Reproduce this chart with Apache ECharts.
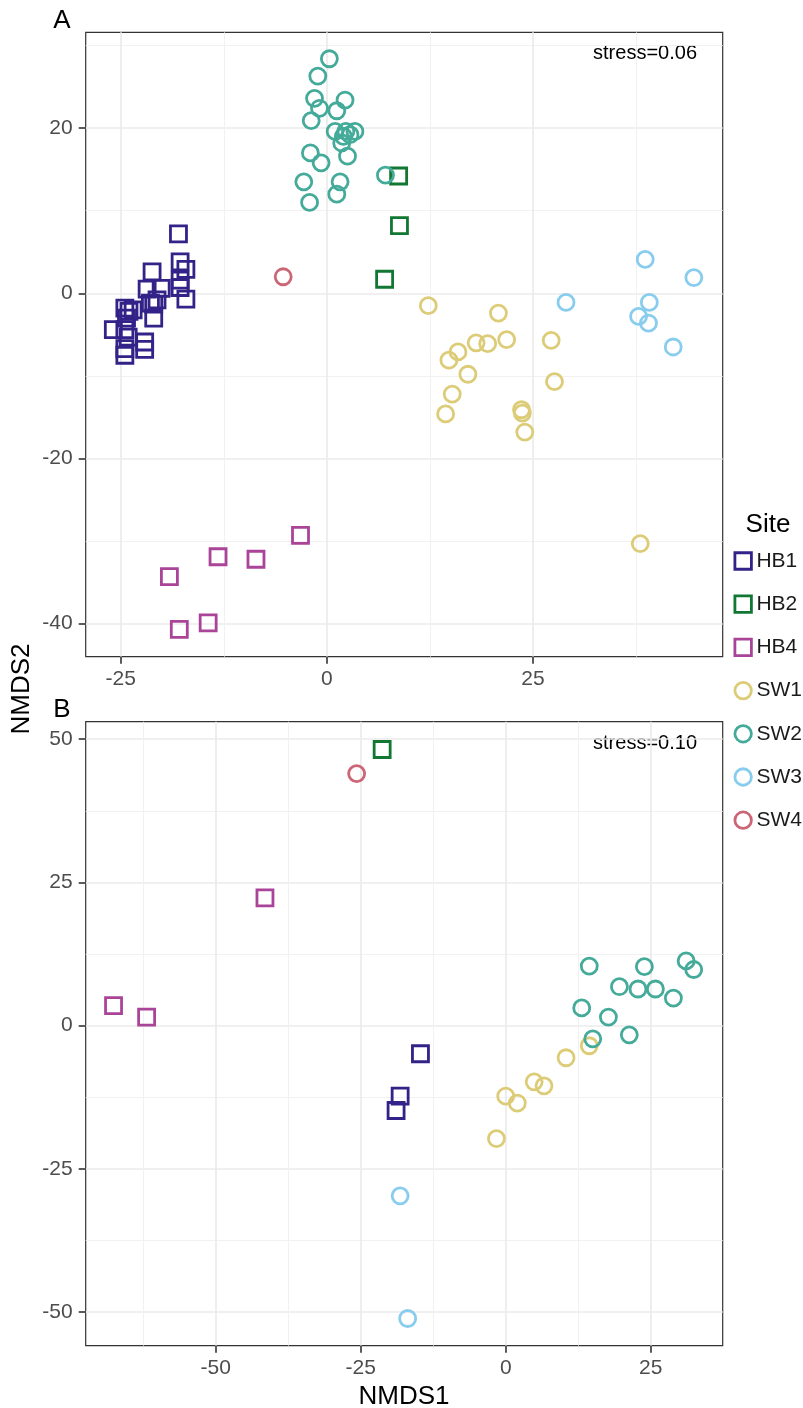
<!DOCTYPE html>
<html>
<head>
<meta charset="utf-8">
<script src="https://cdn.jsdelivr.net/npm/echarts@6/dist/echarts.min.js"></script>
<style>
html,body{margin:0;padding:0;background:#fff;}
#chart{width:803px;height:1408px;}
</style>
</head>
<body>
<div id="chart"></div>
<script>
// ---------- data ----------
const SITES = ['HB1','HB2','HB4','SW1','SW2','SW3','SW4'];

// Panel A (NMDS1, NMDS2)
const A_HB1 = [[-18.0,7.2],[-17.8,3.8],[-17.1,2.9],[-21.2,2.6],[-17.8,1.6],[-17.1,-0.7],[-17.8,0.7],[-20.1,0.6],[-21.8,0.5],[-20.6,-0.8],[-21.0,-1.3],[-21.0,-3.0],[-22.1,-5.9],[-22.1,-6.8],[-24.5,-1.8],[-24.0,-2.2],[-24.3,-3.0],[-25.9,-4.4],[-24.5,-4.4],[-24.1,-5.3],[-24.5,-6.7],[-24.5,-7.5],[-23.5,-2.0],[-21.4,-1.2]];
const A_HB2 = [[8.7,14.2],[8.8,8.2],[7.0,1.7]];
const A_HB4 = [[-19.1,-34.3],[-13.2,-31.9],[-8.6,-32.2],[-3.2,-29.3],[-17.9,-40.7],[-14.4,-39.9]];
const A_SW1 = [[12.3,-1.5],[20.8,-2.4],[21.8,-5.6],[27.2,-5.7],[18.1,-6.0],[19.5,-6.1],[15.9,-7.1],[14.8,-8.1],[17.1,-9.8],[27.6,-10.7],[15.2,-12.2],[14.4,-14.6],[23.6,-14.1],[23.7,-14.5],[24.0,-16.8],[38.0,-30.3]];
const A_SW2 = [[0.3,28.4],[-1.1,26.3],[-1.5,23.6],[-0.9,22.4],[2.2,23.4],[1.2,22.1],[-1.9,20.9],[1.0,19.6],[2.3,19.6],[3.4,19.6],[2.0,19.0],[1.8,18.2],[2.5,16.6],[-2.0,17.0],[-0.7,15.8],[-2.8,13.5],[1.6,13.5],[1.2,12.0],[-2.1,11.0],[7.1,14.3],[2.8,19.2]];
const A_SW3 = [[38.6,4.1],[44.5,1.9],[29.0,-1.1],[39.1,-1.1],[37.8,-2.8],[39.0,-3.6],[42.0,-6.5]];
const A_SW4 = [[-5.3,2.0]];

// Panel B (NMDS1, NMDS2)
const B_HB1 = [[-14.7,-4.9],[-18.2,-12.3],[-18.9,-14.8]];
const B_HB2 = [[-21.3,48.2]];
const B_HB4 = [[-67.6,3.5],[-61.9,1.5],[-41.5,22.3]];
const B_SW1 = [[-1.6,-19.7],[0.0,-12.3],[2.0,-13.5],[4.9,-9.8],[6.6,-10.5],[10.4,-5.6],[14.4,-3.5]];
const B_SW2 = [[14.4,10.4],[23.9,10.3],[31.1,11.3],[32.4,9.8],[19.6,6.8],[22.8,6.4],[25.8,6.4],[28.9,4.8],[13.1,3.1],[17.7,1.5],[15.0,-2.3],[21.3,-1.6]];
const B_SW3 = [[-18.2,-29.7],[-16.9,-51.1]];
const B_SW4 = [[-25.7,44.0]];

// axis ranges and ticks
const A_X_RANGE = [-29.25, 48.0];
const A_Y_RANGE = [-44.0, 31.6];
const B_X_RANGE = [-72.4, 37.4];
const B_Y_RANGE = [-55.85, 53.05];
const A_X_TICKS = [-25, 0, 25];
const A_Y_TICKS = [-40, -20, 0, 20];
const B_X_TICKS = [-50, -25, 0, 25];
const B_Y_TICKS = [-50, -25, 0, 25, 50];
const A_X_MINOR = [-12.5, 12.5, 37.5];
const A_Y_MINOR = [-30, -10, 10, 30];
const B_X_MINOR = [-62.5, -37.5, -12.5, 12.5];
const B_Y_MINOR = [-37.5, -12.5, 12.5, 37.5];

const STRESS = ['stress=0.06', 'stress=0.10'];
const PANEL_LABELS = ['A', 'B'];

// ---------- styles ----------
const FONT = '"Liberation Sans", Arial, Helvetica, sans-serif';
const COLORS = {HB1:'#332288',HB2:'#117733',HB4:'#AA4499',SW1:'#DDCC77',SW2:'#44AA99',SW3:'#88CCEE',SW4:'#CC6677'};
const SHAPES = {HB1:'rect',HB2:'rect',HB4:'rect',SW1:'circle',SW2:'circle',SW3:'circle',SW4:'circle'};

const panelData = [
  {HB1:A_HB1,HB2:A_HB2,HB4:A_HB4,SW1:A_SW1,SW2:A_SW2,SW3:A_SW3,SW4:A_SW4},
  {HB1:B_HB1,HB2:B_HB2,HB4:B_HB4,SW1:B_SW1,SW2:B_SW2,SW3:B_SW3,SW4:B_SW4}
];
const ranges = [
  {x:A_X_RANGE,y:A_Y_RANGE,xt:A_X_TICKS,yt:A_Y_TICKS,xm:A_X_MINOR,ym:A_Y_MINOR},
  {x:B_X_RANGE,y:B_Y_RANGE,xt:B_X_TICKS,yt:B_Y_TICKS,xm:B_X_MINOR,ym:B_Y_MINOR}
];
const grids = [
  {left:85.7, top:32.3, width:637, height:624.4},
  {left:85.7, top:721.7, width:637, height:624}
];

const xAxes = [], yAxes = [], series = [];
grids.forEach((g, gi) => {
  const r = ranges[gi];
  xAxes.push({
    gridIndex: gi, type: 'value', min: r.x[0], max: r.x[1], position: 'bottom',
    axisLine: {show: false, onZero: false},
    axisTick: {show: true, length: 7, customValues: r.xt, lineStyle: {color: '#333333', width: 1.6}},
    axisLabel: {customValues: r.xt, color: '#4D4D4D', fontSize: 21, fontFamily: FONT, margin: 12},
    splitLine: {show: true, lineStyle: {color: '#EBEBEB', width: 1.7}}
  });
  xAxes.push({
    gridIndex: gi, type: 'value', min: r.x[0], max: r.x[1], position: 'top',
    axisLine: {show: false, onZero: false},
    axisTick: {show: false, customValues: r.xm},
    axisLabel: {show: false},
    splitLine: {show: true, lineStyle: {color: '#EFEFEF', width: 0.9}}
  });
  yAxes.push({
    gridIndex: gi, type: 'value', min: r.y[0], max: r.y[1], position: 'left',
    axisLine: {show: false, onZero: false},
    axisTick: {show: true, length: 7, customValues: r.yt, lineStyle: {color: '#333333', width: 1.6}},
    axisLabel: {customValues: r.yt, color: '#4D4D4D', fontSize: 21, fontFamily: FONT, margin: 13},
    splitLine: {show: true, lineStyle: {color: '#EBEBEB', width: 1.7}}
  });
  yAxes.push({
    gridIndex: gi, type: 'value', min: r.y[0], max: r.y[1], position: 'right',
    axisLine: {show: false, onZero: false},
    axisTick: {show: false, customValues: r.ym},
    axisLabel: {show: false},
    splitLine: {show: true, lineStyle: {color: '#EFEFEF', width: 0.9}}
  });
  SITES.forEach(s => {
    series.push({
      type: 'scatter', name: s, xAxisIndex: gi * 2, yAxisIndex: gi * 2,
      data: panelData[gi][s],
      symbol: SHAPES[s], symbolSize: 16,
      itemStyle: {color: 'rgba(0,0,0,0)', borderColor: COLORS[s], borderWidth: 2.8, opacity: 1},
      emphasis: {disabled: true},
      z: 3
    });
  });
});

const graphics = [
  {type:'text', x: 62, y: 21, style:{text: PANEL_LABELS[0], font: '26px ' + FONT, fill:'#000', align:'center', verticalAlign:'middle'}},
  {type:'text', x: 62, y: 710, style:{text: PANEL_LABELS[1], font: '26px ' + FONT, fill:'#000', align:'center', verticalAlign:'middle'}},
  {type:'text', x: 697, y: 53, style:{text: STRESS[0], font: '20px ' + FONT, fill:'#000', align:'right', verticalAlign:'middle'}},
  {type:'text', x: 697, y: 743, style:{text: STRESS[1], font: '20px ' + FONT, fill:'#000', align:'right', verticalAlign:'middle'}},
  {type:'text', x: 404, y: 1397, style:{text: 'NMDS1', font: '26px ' + FONT, fill:'#000', align:'center', verticalAlign:'middle'}},
  {type:'text', x: 22, y: 689, rotation: Math.PI/2, style:{text: 'NMDS2', font: '26px ' + FONT, fill:'#000', align:'center', verticalAlign:'middle'}},
  {type:'text', x: 768, y: 525, style:{text: 'Site', font: '26px ' + FONT, fill:'#000', align:'center', verticalAlign:'middle'}}
];

const chart = echarts.init(document.getElementById('chart'), null, {renderer: 'canvas'});
chart.setOption({
  animation: false,
  backgroundColor: '#ffffff',
  grid: grids.map(g => Object.assign({show: true, borderColor: '#333333', borderWidth: 1.2, backgroundColor: '#ffffff', containLabel: false}, g)),
  xAxis: xAxes,
  yAxis: yAxes,
  legend: {
    orient: 'vertical', left: 733.5, top: 549, padding: 0,
    itemWidth: 16.5, itemHeight: 16.5, itemGap: 19.2,
    selectedMode: false,
    textStyle: {fontSize: 21, fontFamily: FONT, color: '#1A1A1A', lineHeight: 24},
    data: SITES.map(s => ({
      name: s, icon: SHAPES[s],
      itemStyle: {color: 'rgba(0,0,0,0)', borderColor: COLORS[s], borderWidth: 2.8}
    }))
  },
  graphic: graphics,
  series: series
});
</script>
</body>
</html>
